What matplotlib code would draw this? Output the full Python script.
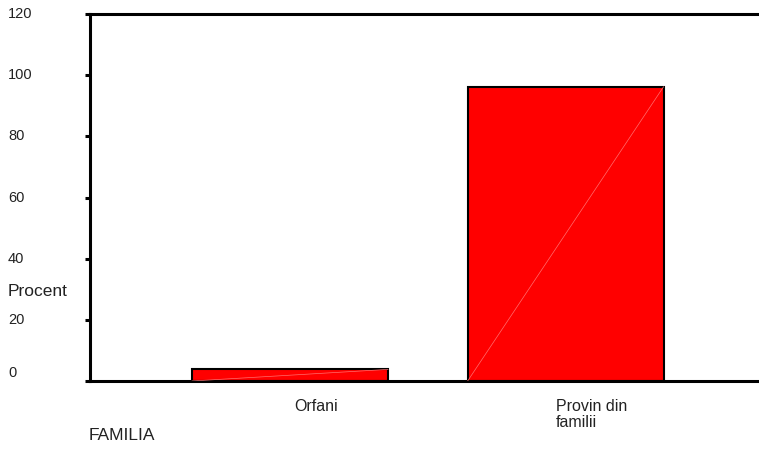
import numpy as np
import matplotlib.pyplot as plt
import matplotlib.transforms as mtransforms

# Data
categories = ['Orfani', 'Provin din\nfamilii']
procent = [3.8, 96.2]
yticks = [0, 20, 40, 60, 80, 100, 120]

W, H = 759, 449
fig = plt.figure(figsize=(W / 100, H / 100), dpi=100)
ax = fig.add_axes([90 / W, (H - 381) / H, (W - 90) / W, (381 - 14) / H])

x = np.arange(len(categories))
bar_w = 0.711
ax.bar(x, procent, width=bar_w, color='#ff0000', edgecolor='black', linewidth=1.5, zorder=2)

# faint diagonal inside the bars (rendering artefact in the original)
for xi, v in zip(x, procent):
    ax.plot([xi - bar_w / 2, xi + bar_w / 2], [0, v], color='#ff7070', lw=0.5, zorder=3)

ax.set_xlim(-0.726, 1.702)
ax.set_ylim(0, 120)

for side in ['left', 'top', 'bottom']:
    ax.spines[side].set_linewidth(2.2)
ax.spines['right'].set_visible(False)

ax.set_xticks([])
ax.set_yticks(yticks)
ax.set_yticklabels([])
ax.tick_params(axis='y', direction='out', length=3.6, width=2.2)

txt = dict(family='Liberation Sans', color='#222222')

# y tick labels at the far left of the figure
trans = mtransforms.blended_transform_factory(fig.transFigure, ax.transData)
for t in yticks:
    dy = 2.6 if t == 0 else 0
    ax.text(8 / W, t + dy, str(t), transform=trans, ha='left', va='center', fontsize=10.5, **txt)

ax.text(8 / W, (381 - 292) / 61 * 20, 'Procent', transform=trans, ha='left', va='center',
        fontsize=12.5, **txt)

# category labels below bars
fig.canvas.draw()
for xi, lab in zip(x, categories):
    px = ax.transData.transform((xi, 0))[0] + 26
    fig.text(px / W, (H - 399) / H, lab, ha='center', va='top', multialignment='left',
             fontsize=11.5, linespacing=1.1, **txt)

fig.text(89 / W, (H - 436) / H, 'FAMILIA', ha='left', va='center', fontsize=12.5, **txt)

fig.savefig('out.png', dpi=100)
